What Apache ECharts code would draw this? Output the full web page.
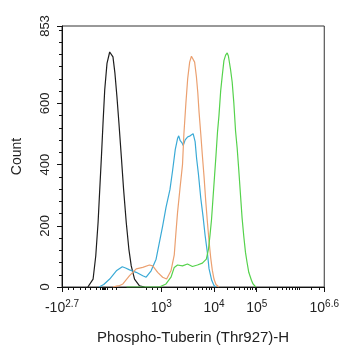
<!DOCTYPE html>
<html><head><meta charset="utf-8">
<script src="https://cdn.jsdelivr.net/npm/echarts@6/dist/echarts.min.js"></script>
<style>html,body{margin:0;padding:0;background:#fff}#c{width:342px;height:350px}</style>
</head><body><div id="c"></div>
<script>
// x axis is a display (biexponential) channel scale 0..264; y is event count
const xTickPos = [0, 100, 153, 196, 264];
const xTickBase = ['-10', '10', '10', '10', '10'];
const xTickExp = ['2.7', '3', '4', '5', '6.6'];
const xLinearMinor = [6, 11, 18, 23, 28, 34, 38, 41, 42, 43, 44, 46, 51, 55, 85, 91, 96];
const xDecadePos = [100, 153, 196, 238.5, 281];
const yLabels = [0, 200, 400, 600, 853];
const yMinor = [40, 80, 120, 160, 240, 280, 320, 360, 440, 480, 520, 560, 640, 680, 720, 760, 800, 840];

const black = [[26,0],[28,2],[31.3,26],[34,102],[36.3,210],[38,319],[39.7,427],[41.3,536],[43,644],[45.3,731],[48,768],[49.7,772],[51.3,752],[53.3,698],[55.3,622],[57.3,536],[59.7,427],[62,319],[64.7,210],[67.3,124],[69.7,69],[73,26],[78,4],[83,0]];
const blue = [[37.3,0],[42,8],[48,26],[54.7,53],[60.7,66],[64,62],[68,56],[74.7,48],[81.3,37],[84.7,32],[89.7,53],[94.7,91],[98,145],[101.3,199],[104.7,260],[108.7,319],[111.3,380],[114,449],[116.3,485],[117.5,494],[119,478],[121,470],[122,462],[124,481],[126.3,490],[129,494],[132,501],[134,475],[135.5,420],[137.3,370],[139.7,290],[142,230],[144,170],[146.3,113],[148,60],[150.7,22],[153,5],[155,0]];
const orange = [[51.3,0],[55,3],[58,5],[61.3,10],[68,37],[74.7,59],[81.3,64],[88,72],[91.3,69],[96.3,48],[101.3,32],[105.3,26],[109.7,53],[113,105],[114.7,178],[116.3,243],[118.7,320],[121.3,400],[122.7,500],[124.7,600],[126.5,680],[128.5,735],[130.3,754],[132,748],[133.5,735],[135.3,687],[136.7,635],[138,570],[139.7,500],[141.3,430],[143,360],[144.7,280],[146.3,215],[148,150],[149.7,95],[151.3,55],[153,26],[155,8],[158,0]];
const green = [[65,0],[98,0],[104.7,10],[109.7,32],[113,64],[116.3,72],[121.3,69],[126.3,75],[131.3,67],[136.3,72],[141.3,78],[145.3,91],[147.5,125],[149,170],[150.5,220],[152,290],[153.5,360],[155,430],[156.5,505],[158,560],[159.7,640],[161.3,690],[163,740],[164.7,758],[166.3,765],[167.5,755],[169.7,710],[171.3,670],[173,600],[174.7,510],[176.3,455],[178,380],[179.7,300],[181.3,225],[183,165],[184.7,113],[186.3,80],[188,48],[190.7,22],[192.3,10],[195,0]];

// log-style minor ticks between decade positions
const xLogMinor = [];
for (let i = 0; i < xDecadePos.length - 1; i++) {
  const a = xDecadePos[i], b = xDecadePos[i + 1];
  for (let k = 2; k <= 10; k++) {
    const p = a + (b - a) * Math.log10(k);
    if (p < 264 && xTickPos.indexOf(p) < 0) xLogMinor.push(+p.toFixed(2));
  }
}
const xMinor = xLinearMinor.concat(xLogMinor);

const font = 'Liberation Sans, Arial, sans-serif';
const txt = '#222';
const chart = echarts.init(document.getElementById('c'), null, {renderer: 'canvas'});
const lineSeries = (name, data, color) => ({
  name, type: 'line', data, showSymbol: false, symbol: 'none', smooth: false,
  lineStyle: {color, width: 1.2}, xAxisIndex: 0, yAxisIndex: 0, z: 3, animation: false
});
chart.setOption({
  animation: false,
  grid: {left: 62, right: 16, top: 26, bottom: 62, show: true, borderColor: '#333', borderWidth: 1, backgroundColor: 'transparent'},
  xAxis: [{
    type: 'value', min: 0, max: 264, position: 'bottom',
    name: 'Phospho-Tuberin (Thr927)-H', nameLocation: 'middle', nameGap: 43,
    nameTextStyle: {fontFamily: font, fontSize: 15, color: txt},
    axisLine: {show: true, lineStyle: {color: '#111', width: 1}},
    axisTick: {show: true, customValues: xTickPos, length: 5, lineStyle: {color: '#111'}},
    splitLine: {show: false},
    axisLabel: {
      customValues: xTickPos, margin: 12, fontFamily: font, fontSize: 14, color: txt,
      formatter: function (v) {
        const i = xTickPos.indexOf(v);
        return i < 0 ? '' : '{b|' + xTickBase[i] + '}{s|' + xTickExp[i] + '}';
      },
      rich: {
        b: {fontFamily: font, fontSize: 14, color: txt},
        s: {fontFamily: font, fontSize: 10, color: txt, padding: [0, 0, 8, 0]}
      }
    }
  }, {
    type: 'value', min: 0, max: 264, position: 'bottom', offset: 0,
    axisLine: {show: false}, splitLine: {show: false}, axisLabel: {show: false},
    axisTick: {show: true, customValues: xMinor, length: 3, lineStyle: {color: '#111'}}
  }],
  yAxis: [{
    type: 'value', min: 0, max: 853, position: 'left',
    name: 'Count', nameLocation: 'middle', nameGap: 38, nameRotate: 90,
    nameTextStyle: {fontFamily: font, fontSize: 14, color: txt},
    axisLine: {show: true, lineStyle: {color: '#111', width: 1}},
    axisTick: {show: true, customValues: yLabels, length: 5, lineStyle: {color: '#111'}},
    splitLine: {show: false},
    axisLabel: {customValues: yLabels, rotate: 90, margin: 10, fontFamily: font, fontSize: 13, color: txt}
  }, {
    type: 'value', min: 0, max: 853, position: 'left', offset: 0,
    axisLine: {show: false}, splitLine: {show: false}, axisLabel: {show: false},
    axisTick: {show: true, customValues: yMinor, length: 3, lineStyle: {color: '#111'}}
  }],
  series: [
    lineSeries('black', black, '#1e1e1e'),
    lineSeries('blue', blue, '#3aaad6'),
    lineSeries('orange', orange, '#eba070'),
    lineSeries('green', green, '#55d24c')
  ]
});
</script></body></html>
